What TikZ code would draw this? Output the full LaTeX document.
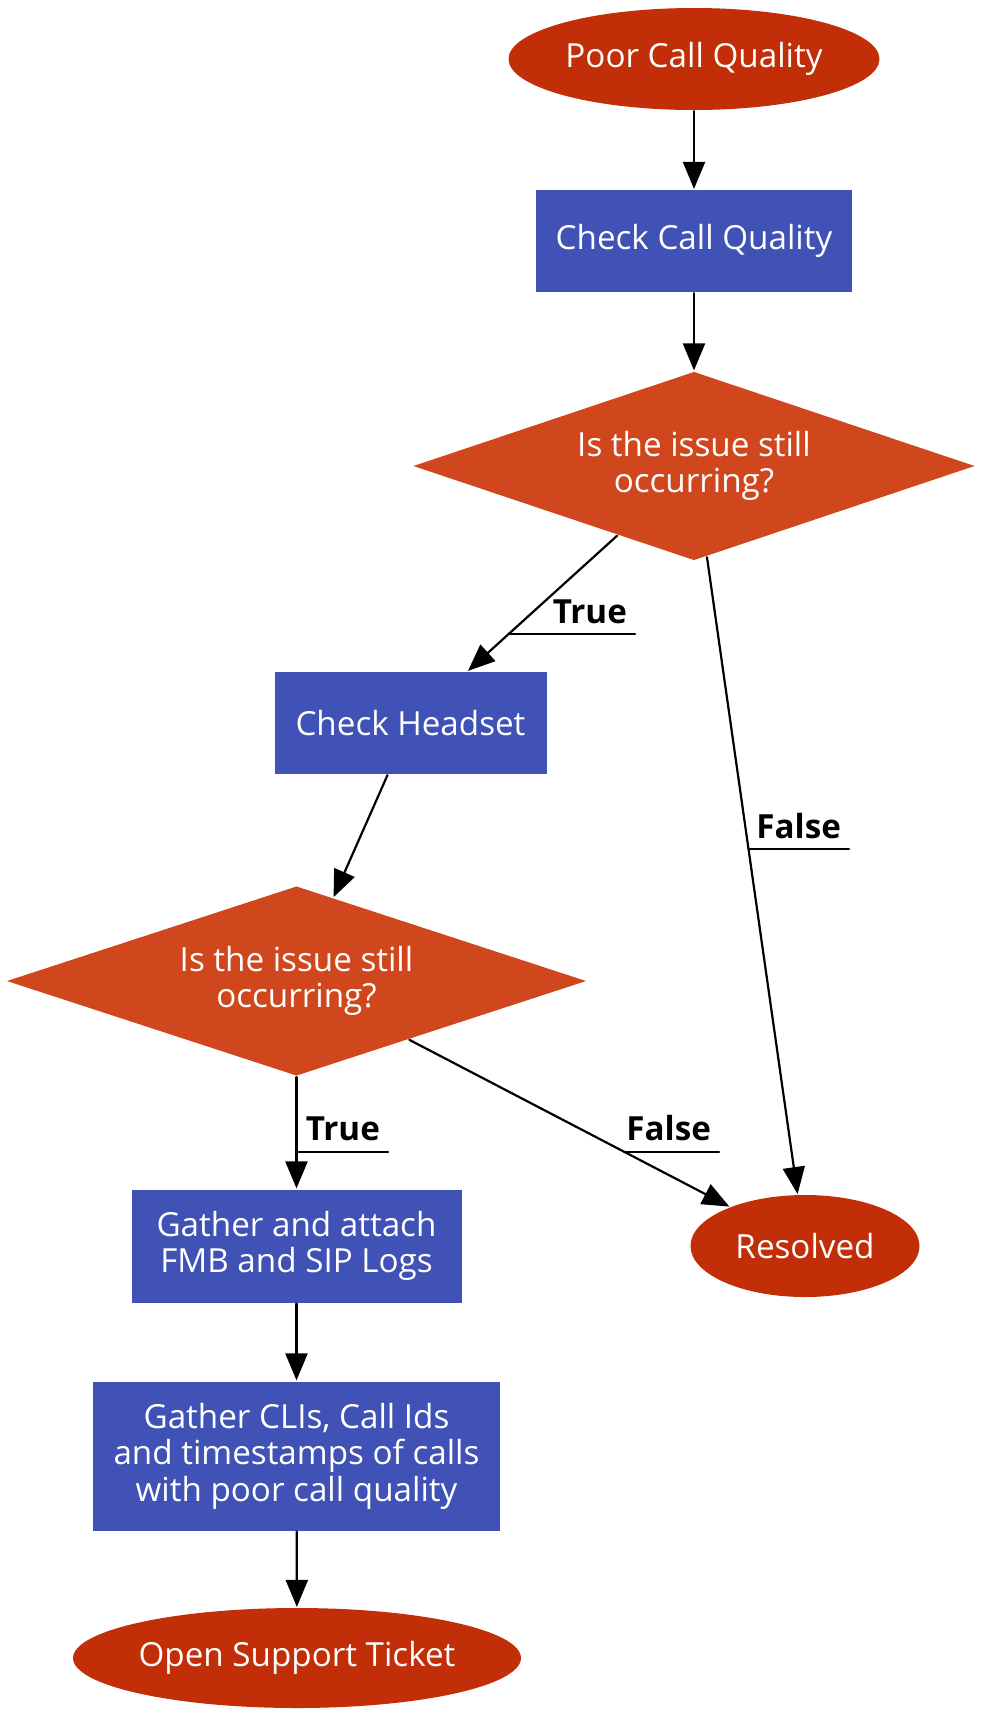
\documentclass[tikz,border=0pt]{standalone}
\usepackage{fontspec}
\setmainfont{Open Sans}
\usetikzlibrary{arrows.meta}
\usetikzlibrary{shapes.geometric}
\usetikzlibrary{calc}
\definecolor{termred}{RGB}{193,46,8}
\definecolor{stepblue}{RGB}{64,82,181}
\definecolor{askorange}{RGB}{209,71,29}
\tikzset{
  terminal/.style={ellipse,fill=termred,text=white,inner sep=0pt},
  process/.style={rectangle,fill=stepblue,text=white,inner sep=0pt,align=center},
  decision/.style={diamond,shape aspect=3,fill=askorange,text=white,inner sep=0pt,align=center},
  answer/.style={font=\fontsize{16.6}{18.3}\selectfont\bfseries,anchor=base east,inner xsep=3.5pt,inner ysep=0pt}
}

\begin{document}
\begin{tikzpicture}[line cap=round,line join=round,>={Triangle[length=13.5pt,width=11pt]},x=0.5pt,y=-0.5pt,line width=1.1pt,font=\fontsize{16.6}{18.3}\selectfont]
      \useasboundingbox (0,0) rectangle (997,1736);
      % nodes
      \node[terminal,minimum width=185.5pt,minimum height=51pt] (start) at (694,59) {Poor Call Quality};
      \node[process,minimum width=158pt,minimum height=51pt] (check) at (694,241) {Check Call Quality};
      \node[decision,minimum width=281pt,minimum height=94.5pt] (ask1) at (694,466) {Is the issue still\\occurring?};
      \node[process,minimum width=136pt,minimum height=51pt] (headset) at (410.5,723) {Check Headset};
      \node[decision,minimum width=290pt,minimum height=95pt] (ask2) at (296.5,981) {Is the issue still\\occurring?};
      \node[process,minimum width=165pt,minimum height=56.5pt] (logs) at (296.5,1246) {Gather and attach\\FMB and SIP Logs};
      \node[terminal,minimum width=114.5pt,minimum height=51pt] (resolved) at (805,1246) {Resolved};
      \node[process,minimum width=203.5pt,minimum height=74.5pt] (clis) at (296.5,1456) {Gather CLIs, Call Ids\\and timestamps of calls\\with poor call quality};
      \node[terminal,minimum width=223pt,minimum height=50pt] (ticket) at (297,1658) {Open Support Ticket};
      % edges
      \draw[->] (start) -- (check);
      \draw[->] (check) -- (ask1);
      \draw[->] (ask1) -- (headset);
      \draw[->] (ask1) -- (resolved);
      \draw[->] (headset) -- (ask2);
      \draw[->] (ask2) -- (logs);
      \draw[->] (ask2) -- (resolved);
      \draw[->] (logs) -- (clis);
      \draw[->] (clis) -- (ticket);
      % edge labels
      \node[answer] (yes1) at (635,623) {True};
      \coordinate (yes1a) at ($(ask1)!0.655!(headset)$);
      \draw (yes1a) -- (yes1a -| yes1.east);
      \node[answer] (no1) at (849,838) {False};
      \coordinate (no1a) at ($(ask1)!0.491!(resolved)$);
      \draw (no1a) -- (no1a -| no1.east);
      \node[answer] (yes2) at (388,1140) {True};
      \coordinate (yes2a) at ($(ask2)!0.645!(logs)$);
      \draw (yes2a) -- (yes2a -| yes2.east);
      \node[answer] (no2) at (719,1140) {False};
      \coordinate (no2a) at ($(ask2)!0.645!(resolved)$);
      \draw (no2a) -- (no2a -| no2.east);
\end{tikzpicture}
\end{document}
